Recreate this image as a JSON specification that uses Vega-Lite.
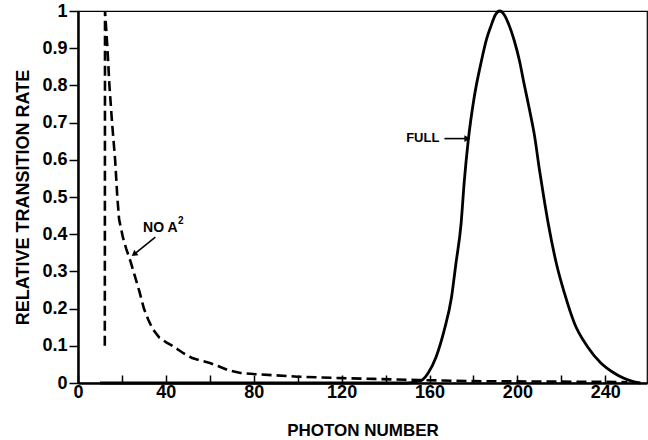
{
  "$schema": "https://vega.github.io/schema/vega-lite/v6.json",
  "autosize": "none",
  "width": 569,
  "height": 372,
  "padding": {"left": 78, "top": 11, "right": 1, "bottom": 57},
  "background": "white",
  "config": {
    "font": "Liberation Sans",
    "view": {"stroke": "black", "strokeWidth": 1.2},
    "axis": {"domainColor": "black", "domainWidth": 2.5, "tickColor": "black", "tickWidth": 1.5, "labelColor": "black", "titleColor": "black", "labelFont": "Liberation Sans", "titleFont": "Liberation Sans", "labelFontWeight": "bold", "titleFontWeight": "bold", "labelFontSize": 18, "titleFontSize": 17, "grid": false, "labelOverlap": false}
  },
  "datasets": {
    "curves": [
      {"series": "FULL", "x": 10, "y": 0},
      {"series": "FULL", "x": 150, "y": 0},
      {"series": "FULL", "x": 156, "y": 0.006},
      {"series": "FULL", "x": 159.4, "y": 0.027},
      {"series": "FULL", "x": 163, "y": 0.07},
      {"series": "FULL", "x": 166.7, "y": 0.142},
      {"series": "FULL", "x": 170, "y": 0.23},
      {"series": "FULL", "x": 172, "y": 0.32},
      {"series": "FULL", "x": 174.4, "y": 0.43},
      {"series": "FULL", "x": 175.8, "y": 0.54},
      {"series": "FULL", "x": 177.6, "y": 0.65},
      {"series": "FULL", "x": 180.4, "y": 0.77},
      {"series": "FULL", "x": 183.6, "y": 0.865},
      {"series": "FULL", "x": 186, "y": 0.925},
      {"series": "FULL", "x": 188, "y": 0.96},
      {"series": "FULL", "x": 190, "y": 0.99},
      {"series": "FULL", "x": 192, "y": 1.0},
      {"series": "FULL", "x": 194, "y": 0.99},
      {"series": "FULL", "x": 196, "y": 0.965},
      {"series": "FULL", "x": 198.6, "y": 0.92},
      {"series": "FULL", "x": 201, "y": 0.865},
      {"series": "FULL", "x": 203, "y": 0.806},
      {"series": "FULL", "x": 205.5, "y": 0.735},
      {"series": "FULL", "x": 207.8, "y": 0.665},
      {"series": "FULL", "x": 210, "y": 0.575},
      {"series": "FULL", "x": 212, "y": 0.5},
      {"series": "FULL", "x": 214, "y": 0.43},
      {"series": "FULL", "x": 217.8, "y": 0.32},
      {"series": "FULL", "x": 221.5, "y": 0.24},
      {"series": "FULL", "x": 226, "y": 0.16},
      {"series": "FULL", "x": 232, "y": 0.097},
      {"series": "FULL", "x": 238, "y": 0.054},
      {"series": "FULL", "x": 244, "y": 0.027},
      {"series": "FULL", "x": 248, "y": 0.014},
      {"series": "FULL", "x": 252, "y": 0.005},
      {"series": "FULL", "x": 256, "y": 0},
      {"series": "NO A2", "x": 12.2, "y": 0.1},
      {"series": "NO A2", "x": 12.3, "y": 1.0},
      {"series": "NO A2", "x": 13.4, "y": 0.9},
      {"series": "NO A2", "x": 14.3, "y": 0.8},
      {"series": "NO A2", "x": 15.5, "y": 0.7},
      {"series": "NO A2", "x": 16.9, "y": 0.6},
      {"series": "NO A2", "x": 17.9, "y": 0.5},
      {"series": "NO A2", "x": 18.7, "y": 0.44},
      {"series": "NO A2", "x": 20.5, "y": 0.39},
      {"series": "NO A2", "x": 22, "y": 0.36},
      {"series": "NO A2", "x": 24, "y": 0.325},
      {"series": "NO A2", "x": 26, "y": 0.285},
      {"series": "NO A2", "x": 28, "y": 0.245},
      {"series": "NO A2", "x": 30, "y": 0.2},
      {"series": "NO A2", "x": 32, "y": 0.17},
      {"series": "NO A2", "x": 34, "y": 0.145},
      {"series": "NO A2", "x": 37, "y": 0.122},
      {"series": "NO A2", "x": 40, "y": 0.11},
      {"series": "NO A2", "x": 43, "y": 0.1},
      {"series": "NO A2", "x": 46, "y": 0.088},
      {"series": "NO A2", "x": 48, "y": 0.08},
      {"series": "NO A2", "x": 52, "y": 0.067},
      {"series": "NO A2", "x": 56, "y": 0.06},
      {"series": "NO A2", "x": 60, "y": 0.054},
      {"series": "NO A2", "x": 64, "y": 0.045},
      {"series": "NO A2", "x": 68, "y": 0.035},
      {"series": "NO A2", "x": 74, "y": 0.027},
      {"series": "NO A2", "x": 80, "y": 0.024},
      {"series": "NO A2", "x": 89, "y": 0.021},
      {"series": "NO A2", "x": 100, "y": 0.017},
      {"series": "NO A2", "x": 120, "y": 0.013},
      {"series": "NO A2", "x": 135, "y": 0.011},
      {"series": "NO A2", "x": 155, "y": 0.008},
      {"series": "NO A2", "x": 180, "y": 0.005},
      {"series": "NO A2", "x": 210, "y": 0.004},
      {"series": "NO A2", "x": 240, "y": 0.003},
      {"series": "NO A2", "x": 250, "y": 0.002}
    ],
    "labels": [
      {"text": "NO A", "x": 29.6, "y": 0.416, "kind": "left"},
      {"text": "2", "x": 45.5, "y": 0.436, "kind": "sup"},
      {"text": "FULL", "x": 164.5, "y": 0.659, "kind": "right"}
    ],
    "arrows": [
      {"name": "NO A2", "x": 35.2, "y": 0.392, "x2": 25.5, "y2": 0.346, "angle": 232},
      {"name": "FULL", "x": 166.8, "y": 0.657, "x2": 177.2, "y2": 0.657, "angle": 90}
    ]
  },
  "encoding": {
    "x": {"field": "x", "type": "quantitative", "scale": {"domain": [0, 259], "nice": false},
      "axis": {"title": "PHOTON NUMBER", "titlePadding": 21, "values": [0, 20, 40, 60, 80, 100, 120, 140, 160, 180, 200, 220, 240], "labelExpr": "datum.value % 40 == 0 ? datum.label : ''", "tickSize": -8, "labelPadding": 8, "labelFlush": false, "labelOverlap": false}},
    "y": {"field": "y", "type": "quantitative", "scale": {"domain": [0, 1], "nice": false},
      "axis": {"title": "RELATIVE TRANSITION RATE", "titleFontSize": 18, "titlePadding": 9, "values": [0, 0.1, 0.2, 0.3, 0.4, 0.5, 0.6, 0.7, 0.8, 0.9, 1], "labelExpr": "datum.value == 0 ? '0' : datum.value == 1 ? '1' : format(datum.value, '.1f')", "tickSize": 9, "labelPadding": 2, "labelFlush": false, "labelOverlap": false, "labelBound": false}}
  },
  "layer": [
    {
      "data": {"name": "curves"},
      "transform": [{"filter": "datum.series == 'FULL'"}],
      "mark": {"type": "line", "color": "black", "strokeWidth": 2.8, "interpolate": "monotone"}
    },
    {
      "data": {"name": "curves"},
      "transform": [{"filter": "datum.series == 'NO A2'"}],
      "mark": {"type": "line", "color": "black", "strokeWidth": 2.6, "strokeDash": [10, 5], "interpolate": "linear"}
    },
    {
      "data": {"name": "arrows"},
      "mark": {"type": "rule", "color": "black", "strokeWidth": 1.6},
      "encoding": {
        "x2": {"field": "x2"},
        "y2": {"field": "y2"}
      }
    },
    {
      "data": {"name": "arrows"},
      "mark": {"type": "point", "shape": "triangle-up", "filled": true, "color": "black", "size": 45, "opacity": 1},
      "encoding": {
        "x": {"field": "x2", "type": "quantitative"},
        "y": {"field": "y2", "type": "quantitative"},
        "angle": {"field": "angle", "type": "quantitative", "scale": null}
      }
    },
    {
      "data": {"name": "labels"},
      "transform": [{"filter": "datum.kind == 'left'"}],
      "mark": {"type": "text", "fontWeight": "bold", "fontSize": 14, "color": "black", "baseline": "middle", "align": "left", "font": "Liberation Sans"},
      "encoding": {"text": {"field": "text"}}
    },
    {
      "data": {"name": "labels"},
      "transform": [{"filter": "datum.kind == 'sup'"}],
      "mark": {"type": "text", "fontWeight": "bold", "fontSize": 10, "color": "black", "baseline": "middle", "align": "left", "font": "Liberation Sans"},
      "encoding": {"text": {"field": "text"}}
    },
    {
      "data": {"name": "labels"},
      "transform": [{"filter": "datum.kind == 'right'"}],
      "mark": {"type": "text", "fontWeight": "bold", "fontSize": 13, "color": "black", "baseline": "middle", "align": "right", "font": "Liberation Sans"},
      "encoding": {"text": {"field": "text"}}
    }
  ]
}
